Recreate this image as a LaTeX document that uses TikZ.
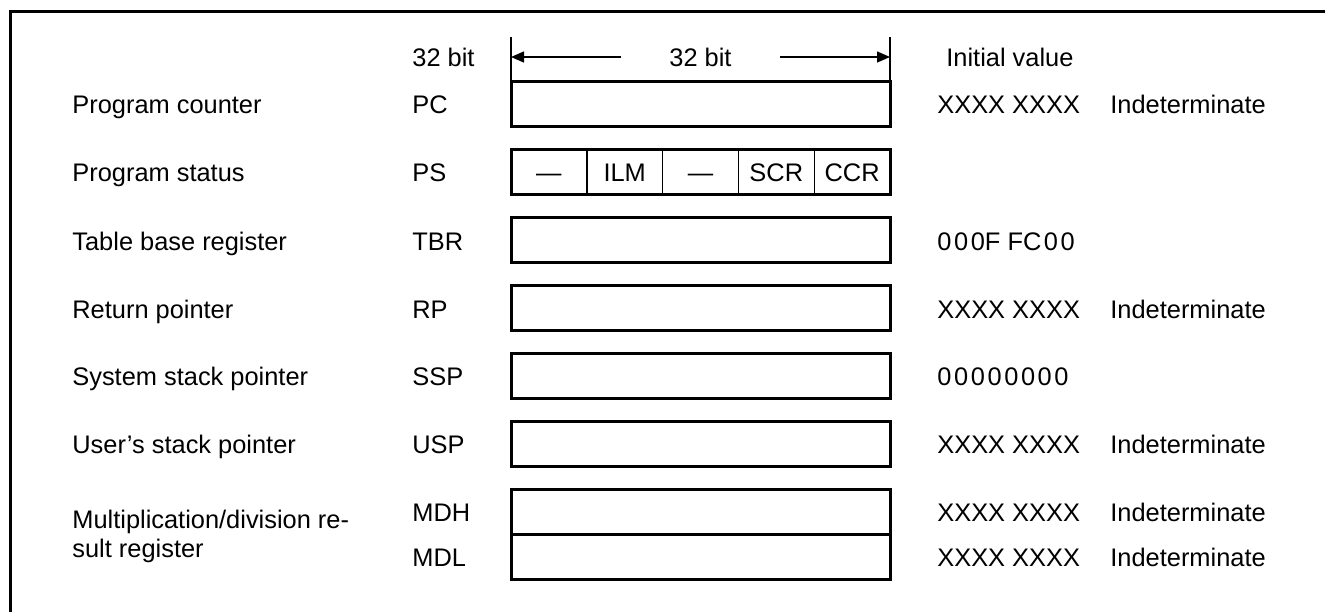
\documentclass[tikz,border=0pt]{standalone}
\usepackage{fontspec}
\setmainfont{Liberation Sans}
\usetikzlibrary{arrows.meta, positioning, calc}

\begin{document}
\begin{tikzpicture}[
    x=0.5pt, y=-0.5pt,
    node distance=11.5pt,
    font=\fontsize{12.7}{14.5}\selectfont,
    reg/.style={draw, line width=1.5pt, minimum width=189.5pt, minimum height=22.5pt, outer sep=0pt, inner sep=0pt},
    lbl/.style={anchor=west, inner sep=0pt, text height=9pt, text depth=0pt},
    cell/.style={inner sep=0pt, text height=9pt, text depth=0pt},
    frame/.style={line width=1.5pt},
    divider/.style={line width=0.7pt},
    tick/.style={line width=1pt},
    dim/.style={-{Triangle[length=6.5pt, width=5.5pt]}, line width=0.7pt}
]
\useasboundingbox (0,0) rectangle (1325,611);

% outer frame (top and left edge only)
\draw[frame] (10,620) -- (10,11) -- (1335,11);

% register boxes
\node[reg] (pc) at (700.5,104) {};
\node[reg, below=of pc] (ps) {};
\node[reg, below=of ps] (tbr) {};
\node[reg, below=of tbr] (rp) {};
\node[reg, below=of rp] (ssp) {};
\node[reg, below=of ssp] (usp) {};
\node[reg, below=of usp] (mdh) {};
\node[reg, below=0pt of mdh] (mdl) {};

% program status fields
\draw[divider] ($(ps.north west)!0.2!(ps.north east)$) -- ($(ps.south west)!0.2!(ps.south east)$);
\draw[divider] ($(ps.north west)!0.4!(ps.north east)$) -- ($(ps.south west)!0.4!(ps.south east)$);
\draw[divider] ($(ps.north west)!0.6!(ps.north east)$) -- ($(ps.south west)!0.6!(ps.south east)$);
\draw[divider] ($(ps.north west)!0.8!(ps.north east)$) -- ($(ps.south west)!0.8!(ps.south east)$);
\node[cell] (psres1) at ($(ps.west)!0.1!(ps.east)$) {—};
\node[cell] (psilm) at ($(ps.west)!0.3!(ps.east)$) {ILM};
\node[cell] (psres2) at ($(ps.west)!0.5!(ps.east)$) {—};
\node[cell] (psscr) at ($(ps.west)!0.7!(ps.east)$) {SCR};
\node[cell] (psccr) at ($(ps.west)!0.9!(ps.east)$) {CCR};

% width dimension
\coordinate (bitl) at (511,37);
\coordinate (bitr) at (890,37);
\draw[tick] (pc.north west) -- (bitl);
\draw[tick] (pc.north east) -- (bitr);
\node[cell, inner xsep=24pt] (bitwidth) at (700.5,57) {32 bit};
\draw[dim] (bitwidth.west) -- (bitwidth.west -| pc.west);
\draw[dim] (bitwidth.east) -- (bitwidth.east -| pc.east);

% column headers
\node[lbl] (bithdr) at (412,57) {32 bit};
\node[lbl] (inithdr) at (946,57) {Initial value};

% register names
\node[lbl] (pcname) at (72,104) {Program counter};
\node[lbl] (psname) at (72,172) {Program status};
\node[lbl] (tbrname) at (72,241) {Table base register};
\node[lbl] (rpname) at (72,309) {Return pointer};
\node[lbl] (sspname) at (72,376) {System stack pointer};
\node[lbl] (uspname) at (72,444) {User’s stack pointer};
\node[anchor=west, inner sep=0pt, align=left] (mdname) at (72,536) {Multiplication/division re-\\sult register};

% abbreviations
\node[lbl] (pcabbr) at (412,104) {PC};
\node[lbl] (psabbr) at (412,172) {PS};
\node[lbl] (tbrabbr) at (412,241) {TBR};
\node[lbl] (rpabbr) at (412,309) {RP};
\node[lbl] (sspabbr) at (412,376) {SSP};
\node[lbl] (uspabbr) at (412,444) {USP};
\node[lbl] (mdhabbr) at (412,512) {MDH};
\node[lbl] (mdlabbr) at (412,557) {MDL};

% initial values
\node[lbl] (pcinit) at (937,104) {XXXX XXXX};
\node[lbl] (pcstate) at (1110,104) {Indeterminate};
\node[lbl] (tbrinit) at (937,241) {0\kern1.3pt0\kern1.3pt0F FC\kern1.3pt0\kern1.3pt0};
\node[lbl] (rpinit) at (937,309) {XXXX XXXX};
\node[lbl] (rpstate) at (1110,309) {Indeterminate};
\node[lbl] (sspinit) at (937,376) {0\kern1.3pt0\kern1.3pt0\kern1.3pt0\kern1.3pt0\kern1.3pt0\kern1.3pt0\kern1.3pt0};
\node[lbl] (uspinit) at (937,444) {XXXX XXXX};
\node[lbl] (uspstate) at (1110,444) {Indeterminate};
\node[lbl] (mdhinit) at (937,512) {XXXX XXXX};
\node[lbl] (mdhstate) at (1110,512) {Indeterminate};
\node[lbl] (mdlinit) at (937,557) {XXXX XXXX};
\node[lbl] (mdlstate) at (1110,557) {Indeterminate};

\end{tikzpicture}
\end{document}
